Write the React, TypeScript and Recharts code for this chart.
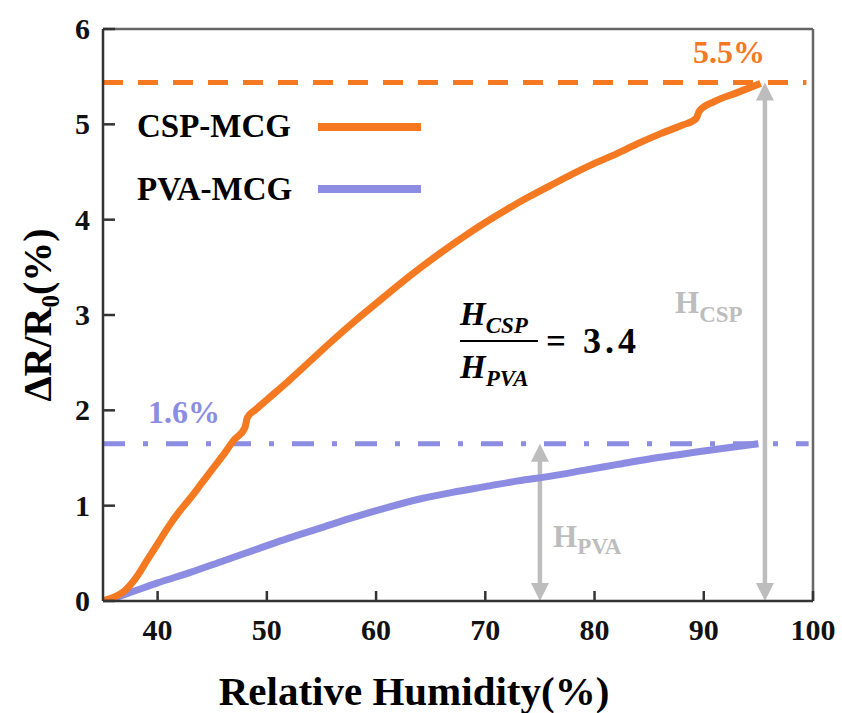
import { LineChart, Line, XAxis, YAxis, ReferenceLine } from 'recharts'

// relative humidity (%) vs ΔR/R0 (%)
const cspRH = [35, 36, 37, 38, 39, 40, 41, 42, 43, 44, 45, 46, 47, 48, 48.2, 49, 50, 52, 54, 56, 58, 60, 62, 64, 66, 68, 70, 72, 74, 76, 78, 80, 82, 84, 86, 88, 89.3, 89.6, 91, 93, 95.2]
const cspDR = [0, 0.04, 0.11, 0.24, 0.42, 0.6, 0.78, 0.94, 1.08, 1.23, 1.38, 1.53, 1.69, 1.82, 1.92, 2.01, 2.11, 2.31, 2.52, 2.73, 2.93, 3.12, 3.31, 3.49, 3.66, 3.82, 3.97, 4.11, 4.24, 4.36, 4.48, 4.59, 4.69, 4.8, 4.9, 4.99, 5.06, 5.14, 5.24, 5.33, 5.43]
const pvaRH = [35, 36, 37, 38, 40, 43, 46, 49, 52, 55, 58, 61, 64, 67, 70, 73, 76, 79, 82, 85, 88, 91, 95]
const pvaDR = [0, 0.03, 0.07, 0.11, 0.19, 0.3, 0.42, 0.54, 0.66, 0.77, 0.88, 0.98, 1.07, 1.14, 1.2, 1.26, 1.31, 1.37, 1.43, 1.49, 1.54, 1.59, 1.65]

const xTicks = [40, 50, 60, 70, 80, 90, 100]
const yTicks = [0, 1, 2, 3, 4, 5, 6]

const cspPeak = 5.44
const pvaPeak = 1.65
const hPvaX = 75
const hCspX = 95.6

const ORANGE = '#F57920'
const PURPLE = '#8C8CE2'
const GRAY = '#BDBDBD'
const FONT = "'Liberation Serif', 'DejaVu Serif', serif"
const serif = { fontFamily: FONT, fontWeight: 700 }

const cspData = cspRH.map((x, i) => ({ rh: x, dr: cspDR[i] }))
const pvaData = pvaRH.map((x, i) => ({ rh: x, dr: pvaDR[i] }))

function XTick(props: any) {
  const { x, y, payload } = props
  return (
    <g>
      <line x1={x} x2={x} y1={y} y2={y - 10} stroke="#333" strokeWidth={2.5} />
      <text x={x} y={y + 39} textAnchor="middle" style={serif} fontSize={30} fill="#111">
        {payload.value}
      </text>
    </g>
  )
}

function YTick(props: any) {
  const { x, y, payload } = props
  return (
    <g>
      <line x1={x} x2={x + 12} y1={y} y2={y} stroke="#333" strokeWidth={2.5} />
      <text x={x - 13} y={y + 10} textAnchor="end" style={serif} fontSize={30} fill="#111">
        {payload.value}
      </text>
    </g>
  )
}

function arrowShape(props: any) {
  const { x1, y1, x2, y2 } = props
  const x = (x1 + x2) / 2
  const top = Math.min(y1, y2)
  const bot = Math.max(y1, y2)
  return (
    <g>
      <line x1={x} x2={x} y1={top + 12} y2={bot - 12} stroke={GRAY} strokeWidth={4.5} />
      <polygon points={`${x},${top} ${x - 9},${top + 18} ${x + 9},${top + 18}`} fill={GRAY} />
      <polygon points={`${x},${bot} ${x - 9},${bot - 18} ${x + 9},${bot - 18}`} fill={GRAY} />
    </g>
  )
}

export default function App() {
  return (
    <div style={{ position: 'absolute', left: 0, top: 0, width: 842, height: 713, background: '#fff' }}>
      <LineChart width={842} height={713} margin={{ top: 29, right: 29, bottom: 0, left: 0 }}>
        <XAxis
          type="number"
          dataKey="rh"
          domain={[35, 100]}
          ticks={xTicks}
          height={112}
          tickSize={0}
          tickMargin={0}
          tick={<XTick />}
          axisLine={{ stroke: '#333', strokeWidth: 2.5 }}
          allowDataOverflow
        />
        <YAxis
          type="number"
          domain={[0, 6]}
          ticks={yTicks}
          width={103}
          tickSize={0}
          tickMargin={0}
          tick={<YTick />}
          axisLine={{ stroke: '#333', strokeWidth: 2.5 }}
          allowDataOverflow
        />
        <ReferenceLine y={6} stroke="#666" strokeWidth={2.5} />
        <ReferenceLine x={100} stroke="#666" strokeWidth={2.5} />
        <ReferenceLine
          segment={[{ x: 35, y: cspPeak }, { x: 99.4, y: cspPeak }]}
          stroke={ORANGE}
          strokeWidth={5}
          strokeDasharray="20 15"
        />
        <ReferenceLine
          segment={[{ x: 35, y: pvaPeak }, { x: 99.6, y: pvaPeak }]}
          stroke={PURPLE}
          strokeWidth={5}
          strokeDasharray="22 18 5 18"
        />
        <ReferenceLine segment={[{ x: hPvaX, y: pvaPeak }, { x: hPvaX, y: 0 }]} shape={arrowShape} />
        <ReferenceLine segment={[{ x: hCspX, y: cspPeak }, { x: hCspX, y: 0 }]} shape={arrowShape} />
        <Line data={pvaData} dataKey="dr" type="monotone" stroke={PURPLE} strokeWidth={7} dot={false} isAnimationActive={false} />
        <Line data={cspData} dataKey="dr" type="monotone" stroke={ORANGE} strokeWidth={7} dot={false} isAnimationActive={false} />
      </LineChart>
      <svg width={842} height={713} style={{ position: 'absolute', left: 0, top: 0, pointerEvents: 'none', ...serif }}>
        {/* legend */}
        <text x={137} y={137} fontSize={33} fill="#000">CSP-MCG</text>
        <line x1={318} x2={421} y1={127} y2={127} stroke={ORANGE} strokeWidth={8} />
        <text x={137} y={200} fontSize={33} fill="#000">PVA-MCG</text>
        <line x1={318} x2={421} y1={189} y2={189} stroke={PURPLE} strokeWidth={8} />

        {/* peak values */}
        <text x={693} y={63} fontSize={32} fill={ORANGE}>5.5%</text>
        <text x={148} y={423} fontSize={32} fill={PURPLE}>1.6%</text>

        {/* height labels */}
        <text x={675} y={313} fontSize={31} fill={GRAY}>
          H<tspan fontSize={23} dy={9}>CSP</tspan>
        </text>
        <text x={553} y={547} fontSize={31} fill={GRAY}>
          H<tspan fontSize={23} dy={7}>PVA</tspan>
        </text>

        {/* ratio */}
        <text x={460} y={325} fontSize={33} fontStyle="italic" fill="#000">
          H<tspan fontSize={23} dy={8}>CSP</tspan>
        </text>
        <line x1={460} x2={538} y1={341} y2={341} stroke="#000" strokeWidth={2} />
        <text x={460} y={378} fontSize={33} fontStyle="italic" fill="#000">
          H<tspan fontSize={23} dy={8}>PVA</tspan>
        </text>
        <text x={546} y={353} fontSize={35} fill="#000">=</text>
        <text x={583} y={353} fontSize={36} letterSpacing={4} fill="#000">3.4</text>

        {/* axis titles */}
        <text x={414} y={705} textAnchor="middle" fontSize={41} fill="#000">Relative Humidity(%)</text>
        <text transform="translate(51, 315) rotate(-90)" textAnchor="middle" fontSize={40} fill="#000">
          ΔR/R<tspan fontSize={25} dy={8}>0</tspan><tspan dy={-8}>(%)</tspan>
        </text>
      </svg>
    </div>
  )
}
